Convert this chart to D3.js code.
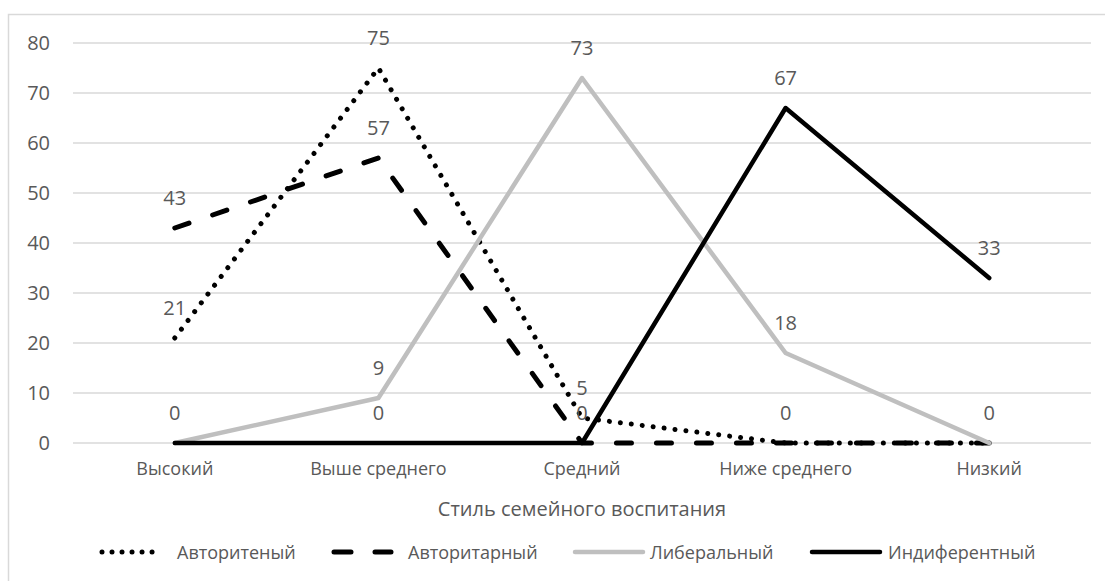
<!DOCTYPE html>
<html>
<head>
<meta charset="utf-8">
<script src="https://cdn.jsdelivr.net/npm/d3@7"></script>
<style>
  html, body { margin: 0; padding: 0; background: #fff; }
  svg { display: block; font-family: "Open Sans", "Noto Sans", sans-serif; }
</style>
</head>
<body>
<svg id="chart" width="1105" height="581"></svg>
<script>
// Categories (x axis) and series values
const categories = ["Высокий", "Выше среднего", "Средний", "Ниже среднего", "Низкий"];
const seriesNames = ["Авторитеный", "Авторитарный", "Либеральный", "Индиферентный"];
const authoritativeValues = [21, 75, 5, 0, 0];
const authoritarianValues = [43, 57, 0, 0, 0];
const liberalValues = [0, 9, 73, 18, 0];
const indifferentValues = [0, 0, 0, 67, 33];
const yTicks = [0, 10, 20, 30, 40, 50, 60, 70, 80];
const xAxisTitle = "Стиль семейного воспитания";

const series = [
  { name: seriesNames[0], values: authoritativeValues, color: "#000", width: 5, dash: "0.01 11", legendDash: "0.01 10", cap: "round" },
  { name: seriesNames[1], values: authoritarianValues, color: "#000", width: 5, dash: "15 25", legendDash: "17 24", cap: "round" },
  { name: seriesNames[2], values: liberalValues, color: "#bfbfbf", width: 4.5, dash: null, legendDash: null, cap: "round" },
  { name: seriesNames[3], values: indifferentValues, color: "#000", width: 4.5, dash: null, legendDash: null, cap: "round" }
];

const svg = d3.select("#chart");
const textColor = "#595959";
const gridColor = "#d9d9d9";
const numFont = "20px";
const textFont = "18px";

// Chart area frame
svg.append("rect")
  .attr("x", 8.5).attr("y", 14.5)
  .attr("width", 1200).attr("height", 700)
  .attr("fill", "none").attr("stroke", gridColor).attr("stroke-width", 1.5);

const plot = { left: 73, right: 1091, top: 43, bottom: 443 };

const x = d3.scaleBand().domain(categories).range([plot.left, plot.right]);
const y = d3.scaleLinear().domain([0, 80]).range([plot.bottom, plot.top]);
const cx = c => x(c) + x.bandwidth() / 2;

// Horizontal gridlines
svg.append("g").selectAll("line").data(yTicks).join("line")
  .attr("x1", plot.left).attr("x2", plot.right)
  .attr("y1", d => y(d)).attr("y2", d => y(d))
  .attr("stroke", gridColor).attr("stroke-width", 1.5);

// Y axis labels
const yAxis = d3.axisLeft(y).tickValues(yTicks).tickSize(0).tickPadding(0);
const yg = svg.append("g").attr("transform", `translate(${plot.left - 23},0)`).call(yAxis);
yg.select(".domain").remove();
yg.selectAll("text").attr("fill", textColor).style("font-size", numFont)
  .style("font-family", "'Open Sans', sans-serif");

// X axis labels
const xAxis = d3.axisBottom(x).tickSize(0).tickPadding(0);
const xg = svg.append("g").attr("transform", `translate(0,${plot.bottom + 19})`).call(xAxis);
xg.select(".domain").remove();
xg.selectAll("text").attr("fill", textColor).style("font-size", textFont)
  .style("font-family", "'Open Sans', sans-serif");

// X axis title
svg.append("text")
  .attr("x", (plot.left + plot.right) / 2).attr("y", 508)
  .attr("text-anchor", "middle").attr("dominant-baseline", "central")
  .attr("fill", textColor).style("font-size", "20px")
  .text(xAxisTitle);

// Series lines
const line = d3.line().x((d, i) => cx(categories[i])).y(d => y(d));
svg.append("g").selectAll("path").data(series).join("path")
  .attr("d", s => line(s.values))
  .attr("fill", "none")
  .attr("stroke", s => s.color)
  .attr("stroke-width", s => s.width)
  .attr("stroke-dasharray", s => s.dash)
  .attr("stroke-linecap", s => s.cap)
  .attr("stroke-linejoin", "round");

// Data labels above each point; coinciding labels are drawn once
const labelData = [];
const seen = new Set();
series.forEach(s => {
  s.values.forEach((v, i) => {
    const key = categories[i] + "|" + v;
    if (seen.has(key)) return;
    seen.add(key);
    labelData.push({ cat: categories[i], value: v });
  });
});
svg.append("g").selectAll("text").data(labelData).join("text")
  .attr("x", d => cx(d.cat))
  .attr("y", d => y(d.value) - 31)
  .attr("text-anchor", "middle").attr("dominant-baseline", "central")
  .attr("fill", textColor).style("font-size", numFont)
  .text(d => d.value);

// Legend
const legendItems = [
  { s: series[0], x1: 102, x2: 160, tx: 177 },
  { s: series[1], x1: 334, x2: 391, tx: 408 },
  { s: series[2], x1: 575, x2: 643, tx: 650 },
  { s: series[3], x1: 812, x2: 880, tx: 888 }
];
const legendY = 552;
const lg = svg.append("g");
legendItems.forEach(it => {
  lg.append("line")
    .attr("x1", it.x1).attr("x2", it.x2)
    .attr("y1", legendY).attr("y2", legendY)
    .attr("stroke", it.s.color).attr("stroke-width", it.s.width)
    .attr("stroke-linecap", "round")
    .attr("stroke-dasharray", it.s.legendDash);
  lg.append("text")
    .attr("x", it.tx).attr("y", legendY)
    .attr("dominant-baseline", "central")
    .attr("fill", textColor).style("font-size", textFont)
    .text(it.s.name);
});
</script>
</body>
</html>
